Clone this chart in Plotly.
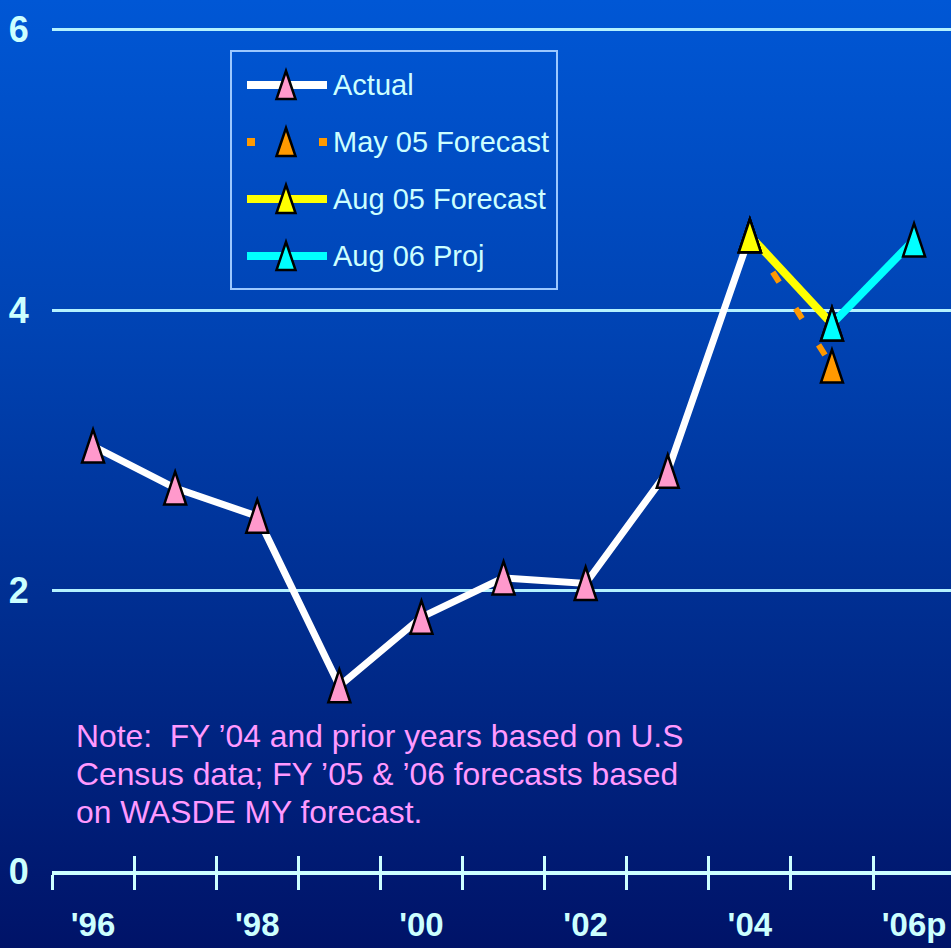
import base64
import plotly.graph_objects as go

# ---- data -------------------------------------------------------------
tick_years = [1996, 1998, 2000, 2002, 2004, 2006]
tick_text = ["'96", "'98", "'00", "'02", "'04", "'06p"]
boundary_years = [1995.5, 1996.5, 1997.5, 1998.5, 1999.5, 2000.5,
                  2001.5, 2002.5, 2003.5, 2004.5, 2005.5]
y_ticks = [0, 2, 4, 6]

actual_years = [1996, 1997, 1998, 1999, 2000, 2001, 2002, 2003, 2004]
actual_vals = [3.03, 2.73, 2.53, 1.32, 1.81, 2.09, 2.05, 2.85, 4.53]

may05_years = [2004, 2005]
may05_vals = [4.53, 3.60]

aug05_years = [2004, 2005]
aug05_vals = [4.53, 3.90]

aug06_years = [2005, 2006]
aug06_vals = [3.90, 4.50]

series_names = ["Actual", "May 05 Forecast", "Aug 05 Forecast", "Aug 06 Proj"]
note_lines = [
    "Note:  FY \u201904 and prior years based on U.S",
    "Census data; FY \u201905 & \u201906 forecasts based",
    "on WASDE MY forecast.",
]

# ---- styling ----------------------------------------------------------
W, H = 951, 948
L_M, R_M, T_M, B_M = 52, 0, 0, 77
PW, PH = W - L_M - R_M, H - T_M - B_M

SANS = "Liberation Sans, Arial, sans-serif"
AXIS_TXT = "#CCFFFF"
GRID = "#B4F2FF"

series = [
    dict(name=series_names[0], x=actual_years, y=actual_vals,
         line="#FFFFFF", width=7, dash="solid", fill="#FF99CC"),
    dict(name=series_names[1], x=may05_years, y=may05_vals,
         line="#FF9900", width=6, dash="12px,31px", fill="#FF9900"),
    dict(name=series_names[2], x=aug05_years, y=aug05_vals,
         line="#FFFF00", width=8, dash="solid", fill="#FFFF00"),
    dict(name=series_names[3], x=aug06_years, y=aug06_vals,
         line="#00FFFF", width=8, dash="solid", fill="#00FFFF"),
]


def px_x(px):
    return (px - L_M) / PW


def px_y(py):
    return (H - B_M - py) / PH


# vertical blue gradient behind everything
svg = (
    f'<svg xmlns="http://www.w3.org/2000/svg" width="{W}" height="{H}" '
    f'viewBox="0 0 {W} {H}" preserveAspectRatio="none">'
    '<defs><linearGradient id="g" x1="0" y1="0" x2="0" y2="1">'
    '<stop offset="0" stop-color="#0057D5"/>'
    '<stop offset="0.35" stop-color="#0043B3"/>'
    '<stop offset="0.7" stop-color="#002A8A"/>'
    '<stop offset="1" stop-color="#001368"/>'
    '</linearGradient></defs>'
    f'<rect width="{W}" height="{H}" fill="url(#g)"/></svg>'
)
bg_uri = "data:image/svg+xml;base64," + base64.b64encode(svg.encode()).decode()

fig = go.Figure()

for s in series:
    fig.add_trace(go.Scatter(
        x=s["x"], y=s["y"], mode="lines", name=s["name"],
        line=dict(color=s["line"], width=s["width"], dash=s["dash"]),
        showlegend=False, hoverinfo="skip", cliponaxis=False,
    ))

# empty traces so the tick-mark axes are drawn
fig.add_trace(go.Scatter(x=[], y=[], xaxis="x2", showlegend=False))
fig.add_trace(go.Scatter(x=[], y=[], xaxis="x3", showlegend=False))

shapes = []
TRI = "M-11,-16.5L11,-16.5L0,16.5Z"
for s in series:
    for xv, yv in zip(s["x"], s["y"]):
        shapes.append(dict(
            type="path", xref="x", yref="y", xsizemode="pixel", ysizemode="pixel",
            xanchor=xv, yanchor=yv, path=TRI, fillcolor=s["fill"],
            line=dict(color="black", width=2.5), layer="above",
        ))

# legend box
shapes.append(dict(type="rect", xref="paper", yref="paper",
                   x0=px_x(231), x1=px_x(557), y0=px_y(51), y1=px_y(289),
                   line=dict(color="#9CC8FF", width=2), fillcolor="rgba(0,0,0,0)",
                   layer="above"))
annotations = []
rows = [85, 142, 199, 256]
LTRI = "M-9.5,-14L9.5,-14L0,14Z"
for s, ry in zip(series, rows):
    dash = "8px,28px" if s["dash"] != "solid" else "solid"
    shapes.append(dict(type="line", xref="paper", yref="paper",
                       x0=px_x(247), x1=px_x(327), y0=px_y(ry), y1=px_y(ry),
                       line=dict(color=s["line"], width=8, dash=dash), layer="above"))
    shapes.append(dict(type="path", xref="paper", yref="paper",
                       xsizemode="pixel", ysizemode="pixel",
                       xanchor=px_x(286), yanchor=px_y(ry), path=LTRI,
                       fillcolor=s["fill"], line=dict(color="black", width=2.5),
                       layer="above"))
    annotations.append(dict(xref="paper", yref="paper", x=px_x(331), y=px_y(ry),
                            xanchor="left", yanchor="middle", showarrow=False,
                            text=s["name"],
                            font=dict(family=SANS, size=29, color=AXIS_TXT)))

for line_text, ly in zip(note_lines, [736, 774, 812]):
    annotations.append(dict(xref="paper", yref="paper", x=px_x(74), y=px_y(ly),
                            xanchor="left", yanchor="middle", align="left",
                            showarrow=False, text=line_text,
                            font=dict(family=SANS, size=31.8, color="#FF99FF")))

x_range = [1995.5, 2006.45]

fig.update_layout(
    width=W, height=H,
    margin=dict(l=L_M, r=R_M, t=T_M, b=B_M, autoexpand=False),
    paper_bgcolor="rgba(0,0,0,0)", plot_bgcolor="rgba(0,0,0,0)",
    showlegend=False,
    images=[dict(source=bg_uri, xref="paper", yref="paper",
                 x=-L_M / PW, y=1 + T_M / PH, sizex=W / PW, sizey=H / PH,
                 xanchor="left", yanchor="top", sizing="stretch", layer="below")],
    xaxis=dict(range=x_range, tickvals=tick_years, ticktext=tick_text,
               automargin=False, showgrid=False, zeroline=False, showline=False,
               ticks="outside", ticklen=24, tickcolor="rgba(0,0,0,0)",
               tickfont=dict(family=SANS, size=33, color=AXIS_TXT, weight="bold")),
    xaxis2=dict(range=x_range, overlaying="x", anchor="y", side="bottom",
                automargin=False,
                tickvals=boundary_years, showticklabels=False, showgrid=False,
                zeroline=False, showline=True, linecolor=AXIS_TXT, linewidth=4,
                ticks="outside", ticklen=15, tickwidth=2.5, tickcolor=AXIS_TXT),
    xaxis3=dict(range=x_range, overlaying="x", anchor="y", side="bottom",
                automargin=False,
                tickvals=boundary_years, showticklabels=False, showgrid=False,
                zeroline=False, showline=False,
                ticks="inside", ticklen=15, tickwidth=2.5, tickcolor=AXIS_TXT),
    yaxis=dict(range=[0, PH / 140.25], tickvals=y_ticks, automargin=False,
               showgrid=True, gridcolor=GRID, gridwidth=3, zeroline=False,
               showline=False, ticks="outside", ticklen=15,
               tickcolor="rgba(0,0,0,0)",
               tickfont=dict(family=SANS, size=36, color=AXIS_TXT, weight="bold")),
    shapes=shapes,
    annotations=annotations,
)

fig.write_html("out.html")
